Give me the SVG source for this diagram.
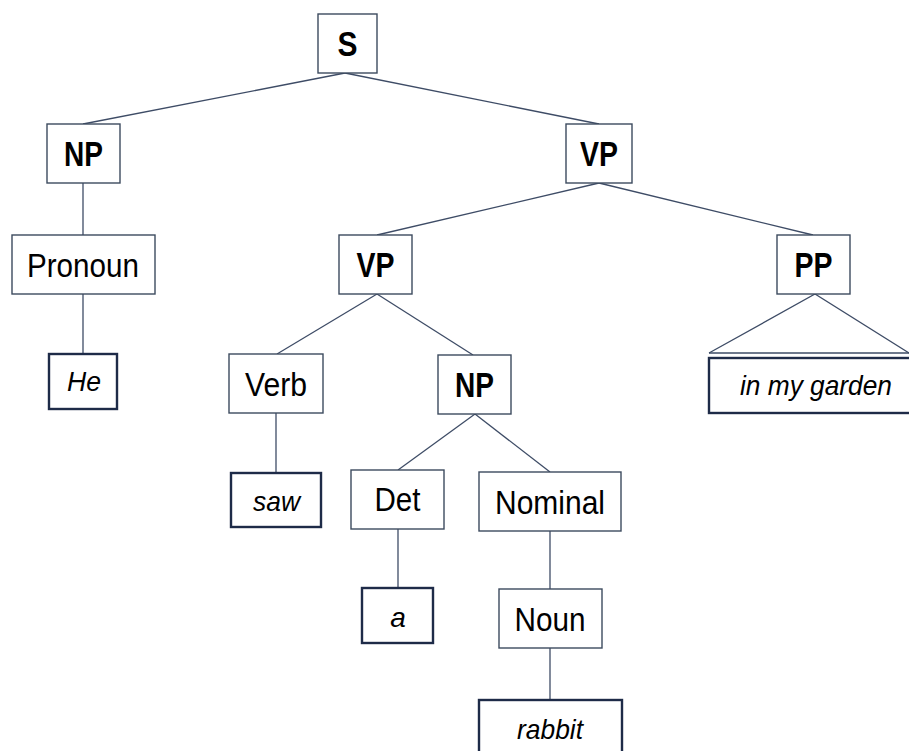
<svg xmlns="http://www.w3.org/2000/svg" width="909" height="751" viewBox="0 0 909 751">
<style>
.bg{fill:#ffffff}
.box{fill:#ffffff;stroke:#3c4a5e;stroke-width:1.4}
.leaf{fill:#ffffff;stroke:#1e2b48;stroke-width:2.4}
.edge{fill:none;stroke:#3e4c66;stroke-width:1.3}
.cat{font-family:"Liberation Sans",Arial,sans-serif;font-weight:bold;font-size:35px;fill:#000;text-anchor:middle}
.pos{font-family:"Liberation Sans",Arial,sans-serif;font-size:33px;fill:#000;text-anchor:middle}
.word{font-family:"Liberation Sans",Arial,sans-serif;font-style:italic;font-size:28px;fill:#000;text-anchor:middle}
</style>
<rect class="bg" x="0" y="0" width="909" height="751"/>
<g id="connectors">
<line class="edge" x1="345" y1="73" x2="83" y2="124"/>
<line class="edge" x1="345" y1="73" x2="599" y2="124"/>
<line class="edge" x1="83" y1="183" x2="83" y2="235"/>
<line class="edge" x1="83" y1="294" x2="83" y2="354"/>
<line class="edge" x1="599" y1="183" x2="377" y2="235"/>
<line class="edge" x1="599" y1="183" x2="813" y2="235"/>
<line class="edge" x1="377" y1="294" x2="277" y2="354"/>
<line class="edge" x1="377" y1="294" x2="473" y2="355"/>
<line class="edge" x1="276" y1="413" x2="276" y2="473"/>
<line class="edge" x1="475" y1="414" x2="398" y2="470"/>
<line class="edge" x1="475" y1="414" x2="550" y2="472"/>
<line class="edge" x1="398" y1="529" x2="398" y2="588"/>
<line class="edge" x1="550" y1="531" x2="550" y2="589"/>
<line class="edge" x1="550" y1="648" x2="550" y2="700"/>
<polyline class="edge" points="709,353 815,294 909,353"/>
<line class="edge" x1="709" y1="353" x2="909" y2="353" stroke="#6f7a8c"/>
</g>
<g id="node-S"><rect class="box" x="318" y="14" width="59" height="59"/><text class="cat" x="347.5" y="56" textLength="20" lengthAdjust="spacingAndGlyphs">S</text></g>
<g id="node-NP1"><rect class="box" x="47" y="124" width="73" height="59"/><text class="cat" x="83.5" y="166" textLength="39" lengthAdjust="spacingAndGlyphs">NP</text></g>
<g id="node-VP1"><rect class="box" x="566" y="124" width="66" height="59"/><text class="cat" x="599" y="166" textLength="38" lengthAdjust="spacingAndGlyphs">VP</text></g>
<g id="node-Pronoun"><rect class="box" x="12" y="235" width="143" height="59"/><text class="pos" x="83" y="277" textLength="112" lengthAdjust="spacingAndGlyphs">Pronoun</text></g>
<g id="node-He"><rect class="leaf" x="49" y="354" width="68" height="55"/><text class="word" x="84" y="391" textLength="34" lengthAdjust="spacingAndGlyphs">He</text></g>
<g id="node-VP2"><rect class="box" x="339" y="235" width="73" height="59"/><text class="cat" x="375.5" y="277" textLength="38" lengthAdjust="spacingAndGlyphs">VP</text></g>
<g id="node-PP"><rect class="box" x="777" y="235" width="73" height="59"/><text class="cat" x="813.5" y="277" textLength="38" lengthAdjust="spacingAndGlyphs">PP</text></g>
<g id="node-garden"><rect class="leaf" x="709" y="358" width="204" height="55"/><text class="word" x="816" y="395" textLength="152" lengthAdjust="spacingAndGlyphs">in my garden</text></g>
<g id="node-Verb"><rect class="box" x="229" y="354" width="94" height="59"/><text class="pos" x="276" y="396" textLength="62" lengthAdjust="spacingAndGlyphs">Verb</text></g>
<g id="node-NP2"><rect class="box" x="438" y="355" width="73" height="59"/><text class="cat" x="474.5" y="397" textLength="39" lengthAdjust="spacingAndGlyphs">NP</text></g>
<g id="node-saw"><rect class="leaf" x="231" y="473" width="90" height="54"/><text class="word" x="276.5" y="511" textLength="47" lengthAdjust="spacingAndGlyphs">saw</text></g>
<g id="node-Det"><rect class="box" x="351" y="470" width="93" height="59"/><text class="pos" x="397.5" y="511" textLength="46" lengthAdjust="spacingAndGlyphs">Det</text></g>
<g id="node-Nominal"><rect class="box" x="479" y="472" width="142" height="59"/><text class="pos" x="550" y="514" textLength="110" lengthAdjust="spacingAndGlyphs">Nominal</text></g>
<g id="node-a"><rect class="leaf" x="362" y="588" width="71" height="55"/><text class="word" x="398" y="627">a</text></g>
<g id="node-Noun"><rect class="box" x="499" y="589" width="103" height="59"/><text class="pos" x="550" y="631" textLength="71" lengthAdjust="spacingAndGlyphs">Noun</text></g>
<g id="node-rabbit"><rect class="leaf" x="479" y="700" width="143" height="56"/><text class="word" x="550" y="739" textLength="66" lengthAdjust="spacingAndGlyphs">rabbit</text></g>
</svg>
